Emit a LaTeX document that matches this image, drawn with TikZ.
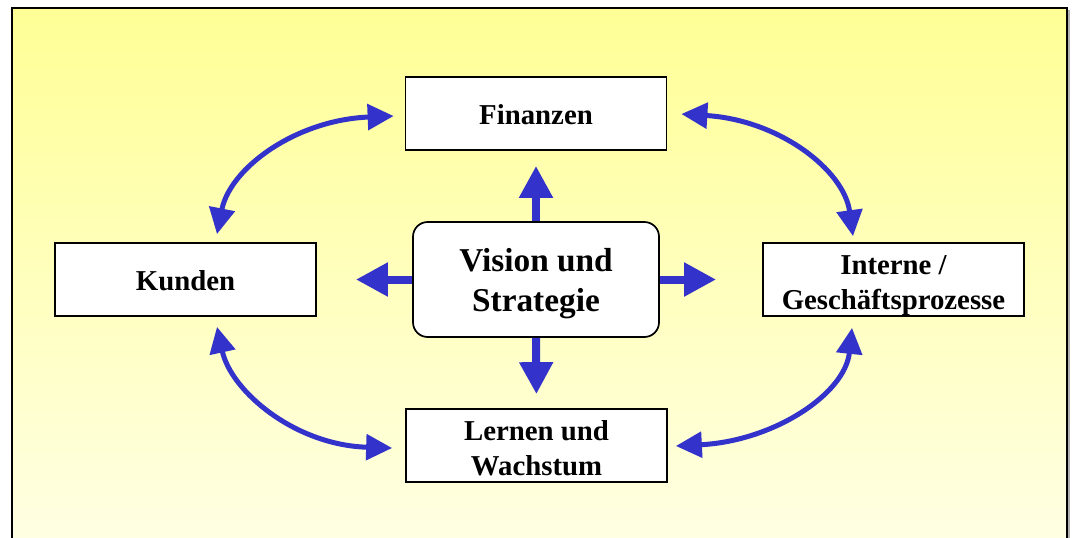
\documentclass[tikz,border=0pt]{standalone}
\usepackage{fontspec}
\setmainfont{Liberation Serif}
\usetikzlibrary{arrows.meta,calc}
\definecolor{arrowblue}{RGB}{51,51,204}
\definecolor{bgtop}{RGB}{255,255,150}
\definecolor{bgbot}{RGB}{255,255,228}

\begin{document}
\begin{tikzpicture}[x=0.75pt,y=-0.75pt,
  box/.style={draw=black, line width=1.3pt, fill=white, inner sep=0pt,
    minimum width=195.75pt, minimum height=54.75pt},
  visbox/.style={draw=black, line width=1.3pt, fill=white, rounded corners=11pt,
    inner sep=0pt, minimum width=184.5pt, minimum height=86.25pt},
  boxtext/.style={inner sep=0pt, align=center,
    font=\fontsize{21.6}{26}\selectfont\bfseries},
  vistext/.style={inner sep=0pt, align=center,
    font=\fontsize{25}{30}\selectfont\bfseries},
  bigarrow/.style={arrowblue, line width=6pt,
    -{Triangle[length=24pt,width=24pt]}},
  curvearrow/.style={arrowblue, line width=3.75pt,
    {Triangle[length=19.5pt,width=19pt]}-{Triangle[length=19.5pt,width=19pt]}}
]
\useasboundingbox (0,0) rectangle (1074,537);
\clip (0,0) rectangle (1074,537);

% background panel
\shade[top color=bgtop, bottom color=bgbot] (12,8) rectangle (1067,545);
\draw[gray!60, line width=1.5pt] (1069,10) -- (1069,545);
\draw[black, line width=1.5pt] (12,545) -- (12,8) -- (1067,8) -- (1067,545);

% perspectives (frames)
\node[box] (fin) at (536,113.5) {};
\node[box] (kun) at (185.5,279.5) {};
\node[box] (int) at (893.5,279.5) {};
\node[box] (ler) at (536.5,445.5) {};
\node[visbox] (vis) at (536,279.5) {};

% perspectives (labels)
\node[boxtext] (finlabel) at ($(fin.center)+(0,1)$) {Finanzen};
\node[boxtext] (kunlabel) at ($(kun.center)+(0,1)$) {Kunden};
\node[boxtext] (intlabel) at ($(int.center)+(0,6)$) {Interne /\\Geschäftsprozesse};
\node[boxtext] (lerlabel) at ($(ler.center)+(0,3)$) {Lernen und\\Wachstum};
\node[vistext] (vislabel) at ($(vis.center)+(0,4)$) {Vision und\\Strategie};

% straight arrows from the centre
\draw[bigarrow, shorten >=11.25pt] (vis.north) -- (fin.south);
\draw[bigarrow, shorten >=10.5pt] (vis.south) -- (ler.north);
\draw[bigarrow, shorten >=34.5pt] (vis.east) -- (int.west);
\draw[bigarrow, shorten >=29.25pt] (vis.west) -- (kun.east);

% curved double arrows around the centre
\draw[curvearrow] ($(kun.north)+(31.5,-8)$) .. controls +(13,-66) and +(-98,4) .. ($(fin.west)+(-11,2.5)$);
\draw[curvearrow] ($(fin.east)+(14,0.5)$) .. controls +(98,6) and +(-9,-66) .. ($(int.north)+(-40.5,-6)$);
\draw[curvearrow] ($(int.south)+(-41.5,11)$) .. controls +(-7,66) and +(98,-5) .. ($(ler.east)+(8,0.5)$);
\draw[curvearrow] ($(kun.south)+(31.5,10)$) .. controls +(14,64) and +(-98,-3) .. ($(ler.west)+(-13,2.5)$);
\end{tikzpicture}
\end{document}
